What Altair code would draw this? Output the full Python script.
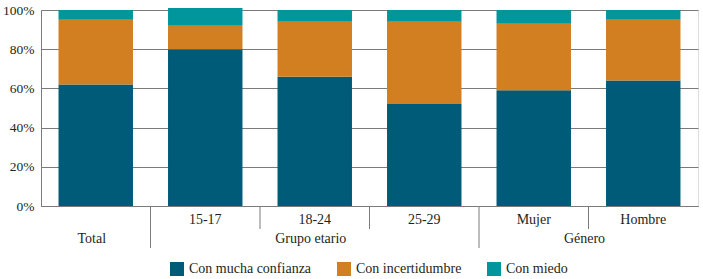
import altair as alt
import pandas as pd

categories = ["Total", "15-17", "18-24", "25-29", "Mujer", "Hombre"]
series = ["Con mucha confianza", "Con incertidumbre", "Con miedo"]
mucha = [62, 80, 66, 52, 59, 64]
incert = [33, 12, 28, 42, 34, 31]
miedo = [5, 9, 6, 6, 7, 5]
colors = ["#005B78", "#D17F21", "#00969B"]
y_ticks = [0, 20, 40, 60, 80, 100]

sub_labels = ["15-17", "18-24", "25-29", "Mujer", "Hombre"]
major_seps = ["15-17", "Mujer"]
minor_seps = ["18-24", "25-29", "Hombre"]
group_center_labels = ["Total", "Grupo etario"]
group_center_anchor = ["Total", "18-24"]
group_edge_labels = ["Género"]
group_edge_anchor = ["Hombre"]

rows = []
for si, (s, vals) in enumerate(zip(series, [mucha, incert, miedo])):
    for c, v in zip(categories, vals):
        rows.append({"cat": c, "serie": s, "val": v, "ord": si})
df = pd.DataFrame(rows)

W, H = 657, 196
FONT = "Liberation Serif"
GRAY = "#7a7a7a"
TXT = "#231f20"
P_IN = 0.32

xscale = alt.Scale(type="band", domain=categories, paddingInner=P_IN, paddingOuter=P_IN / 2)
xstep = alt.Scale(type="band", domain=categories, paddingInner=0, paddingOuter=0)

bars = alt.Chart(df).mark_bar().encode(
    x=alt.X("cat:N", scale=xscale, sort=categories,
            axis=alt.Axis(labels=False, ticks=False, title=None, domain=True,
                          domainColor=GRAY, domainWidth=1, grid=False)),
    y=alt.Y("val:Q", stack="zero", scale=alt.Scale(domain=[0, 100], nice=False),
            axis=alt.Axis(values=y_ticks, labelExpr="datum.value + '%'", title=None,
                          ticks=False, labelPadding=7, grid=True, gridColor=GRAY,
                          domainColor=GRAY, labelFont=FONT, labelFontSize=13.5,
                          labelColor=TXT)),
    color=alt.Color("serie:N", scale=alt.Scale(domain=series, range=colors),
                    legend=alt.Legend(orient="none", legendX=129, legendY=252,
                                      direction="horizontal", title=None,
                                      symbolType="square", symbolSize=196,
                                      symbolStrokeWidth=0, labelFont=FONT,
                                      labelFontSize=14, labelColor=TXT,
                                      labelOffset=5, columnPadding=25)),
    order=alt.Order("ord:Q", sort="ascending"),
)

sub_df = pd.DataFrame({"cat": sub_labels})
sub_text = alt.Chart(sub_df).mark_text(font=FONT, fontSize=14, color=TXT,
                                       baseline="middle").encode(
    x=alt.X("cat:N", scale=xscale, sort=categories, axis=None),
    y=alt.value(H + 14),
    text="cat:N",
)

gc_df = pd.DataFrame({"cat": group_center_anchor, "label": group_center_labels})
gc_text = alt.Chart(gc_df).mark_text(font=FONT, fontSize=14, color=TXT,
                                     baseline="middle", dx=-4).encode(
    x=alt.X("cat:N", scale=xscale, sort=categories, axis=None),
    y=alt.value(H + 33),
    text="label:N",
)

ge_df = pd.DataFrame({"cat": group_edge_anchor, "label": group_edge_labels})
ge_text = alt.Chart(ge_df).mark_text(font=FONT, fontSize=14, color=TXT,
                                     baseline="middle", dx=-4).encode(
    x=alt.X("cat:N", scale=xstep, sort=categories, bandPosition=0, axis=None),
    y=alt.value(H + 33),
    text="label:N",
)

maj_df = pd.DataFrame({"cat": major_seps})
maj_rules = alt.Chart(maj_df).mark_rule(color=GRAY, strokeWidth=1).encode(
    x=alt.X("cat:N", scale=xstep, sort=categories, bandPosition=0, axis=None),
    y=alt.value(H),
    y2=alt.value(H + 42),
)

min_df = pd.DataFrame({"cat": minor_seps})
min_rules = alt.Chart(min_df).mark_rule(color=GRAY, strokeWidth=1).encode(
    x=alt.X("cat:N", scale=xstep, sort=categories, bandPosition=0, axis=None),
    y=alt.value(H),
    y2=alt.value(H + 23),
)

chart = alt.layer(bars, sub_text, gc_text, ge_text, maj_rules, min_rules).resolve_scale(
    x="independent"
).properties(
    width=W, height=H,
    autosize=alt.AutoSizeParams(type="none"),
    padding={"left": 41, "top": 10, "right": 5, "bottom": 73},
).configure_view(stroke=None).configure(background="white")

chart.save("out.html", embed_options={"renderer": "svg", "actions": False})
